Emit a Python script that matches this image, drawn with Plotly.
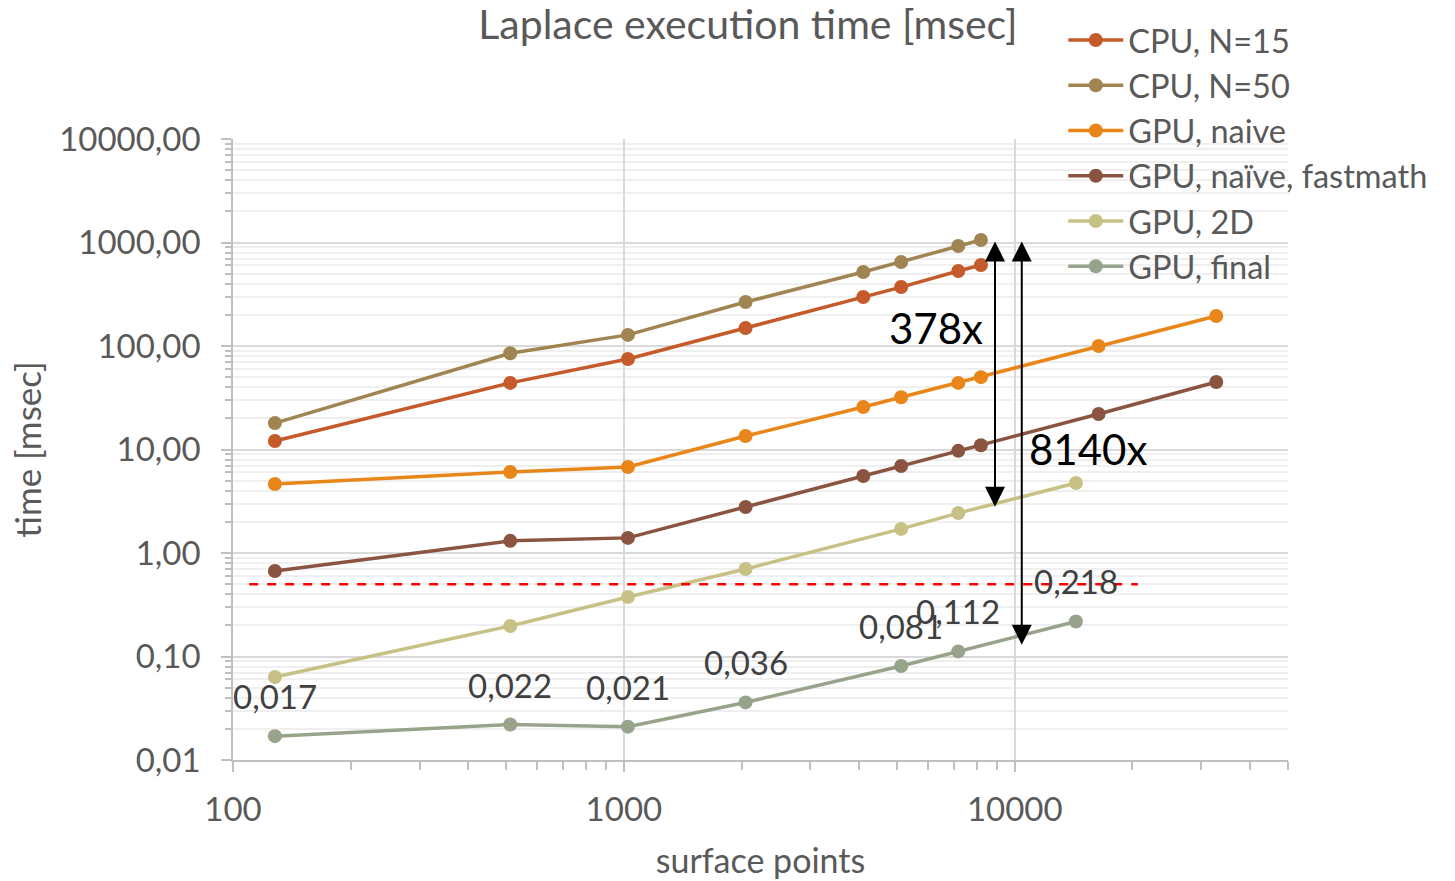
import math
import plotly.graph_objects as go

# Surface point counts for each implementation
x_cpu = [128, 512, 1024, 2048, 4096, 5120, 7168, 8192]
x_gpu = [128, 512, 1024, 2048, 4096, 5120, 7168, 8192, 16384, 32768]
x_2d = [128, 512, 1024, 2048, 5120, 7168, 14336]

# Execution times in msec
cpu_n15 = [12.1, 44, 75, 149, 297, 371, 530, 606]
cpu_n50 = [18, 85, 128, 266, 518, 648, 925, 1056]
gpu_naive = [4.64, 6.07, 6.78, 13.5, 25.7, 32, 44, 50, 100, 195]
gpu_fastmath = [0.67, 1.31, 1.40, 2.78, 5.54, 6.93, 9.7, 11.0, 22, 44.9]
gpu_2d = [0.0634, 0.197, 0.376, 0.70, 1.71, 2.43, 4.74]
gpu_final = [0.017, 0.022, 0.021, 0.036, 0.081, 0.112, 0.218]
final_labels = ["0,017", "0,022", "0,021", "0,036", "0,081", "0,112", "0,218"]

# Real-time threshold line
threshold = 0.5
threshold_x = [110, 20650]

# Speed-up ratios shown by the arrows
speedup_cpu = 378
speedup_total = 8140

y_tickvals = [0.01, 0.1, 1, 10, 100, 1000, 10000]
y_ticktext = ["0,01", "0,10", "1,00", "10,00", "100,00", "1000,00", "10000,00"]
x_tickvals = [100, 1000, 10000]
x_ticktext = ["100", "1000", "10000"]

FONT = "Lato, 'Open Sans', sans-serif"
TXT = "#595959"

series = [
    ("CPU, N=15", x_cpu, cpu_n15, "#C55A2B"),
    ("CPU, N=50", x_cpu, cpu_n50, "#A08552"),
    ("GPU, naive", x_gpu, gpu_naive, "#E8861A"),
    ("GPU, naïve, fastmath", x_gpu, gpu_fastmath, "#8A5440"),
    ("GPU, 2D", x_2d, gpu_2d, "#C8C185"),
    ("GPU, final", x_2d, gpu_final, "#97A38A"),
]

fig = go.Figure()
for name, xs, ys, col in series:
    fig.add_trace(go.Scatter(
        x=xs, y=ys, name=name, mode="lines+markers",
        line=dict(color=col, width=3.5),
        marker=dict(color=col, size=14),
    ))

fig.add_trace(go.Scatter(
    x=threshold_x, y=[threshold, threshold], mode="lines",
    line=dict(color="#FF0000", width=2.5, dash="dash"),
    showlegend=False, hoverinfo="skip",
))

annotations = []
for xv, yv, lab in zip(x_2d, gpu_final, final_labels):
    annotations.append(dict(
        x=math.log10(xv), y=math.log10(yv), text=lab, showarrow=False,
        yshift=40, font=dict(family=FONT, size=33, color="#404040"),
    ))

# Double-headed speed-up arrows
top = cpu_n50[-1]
for xa, ratio in [(8900, speedup_cpu), (10420, speedup_total)]:
    annotations.append(dict(
        x=math.log10(xa), y=math.log10(top / ratio),
        ax=math.log10(xa), ay=math.log10(top),
        xref="x", yref="y", axref="x", ayref="y",
        text="", showarrow=True, arrowhead=2, arrowside="end+start",
        arrowsize=2, arrowwidth=2, arrowcolor="#000000",
    ))

annotations.append(dict(x=math.log10(6300), y=math.log10(150), text=f"{speedup_cpu}x",
                        showarrow=False, font=dict(family=FONT, size=42, color="#000000")))
annotations.append(dict(x=math.log10(15400), y=math.log10(10.2), text=f"{speedup_total}x",
                        showarrow=False, font=dict(family=FONT, size=42, color="#000000")))

y_minor = [m * 10 ** e for e in range(-2, 4) for m in range(2, 10)]
x_minor = [m * 10 ** e for e in range(2, 5) for m in range(2, 10) if m * 10 ** e <= 50000]

fig.update_layout(
    width=1455, height=881,
    paper_bgcolor="white", plot_bgcolor="white",
    margin=dict(l=233, r=167, t=139, b=121, autoexpand=False),
    font=dict(family=FONT, color=TXT),
    title=dict(text="Laplace execution time [msec]", x=0.514, xanchor="center",
               y=0.972, yanchor="middle",
               font=dict(family=FONT, size=41, color=TXT)),
    legend=dict(x=0.787, y=0.986, xanchor="left", yanchor="top", yref="container",
                xref="paper", bgcolor="rgba(0,0,0,0)",
                font=dict(family=FONT, size=32.5, color=TXT),
                itemwidth=55, tracegroupgap=0),
    annotations=annotations,
    xaxis=dict(
        type="log", range=[2, math.log10(50000)],
        tickvals=x_tickvals, ticktext=x_ticktext,
        tickfont=dict(family=FONT, size=33, color=TXT),
        ticks="outside", ticklen=10, tickcolor="#bfbfbf", tickwidth=1.5,
        ticklabelstandoff=10,
        showline=True, linecolor="#bfbfbf", linewidth=1.5,
        showgrid=True, gridcolor="#d9d9d9", gridwidth=1.5,
        zeroline=False,
        minor=dict(tickvals=x_minor, ticks="outside", ticklen=8,
                   tickcolor="#bfbfbf", tickwidth=1.5, showgrid=False),
        title=dict(text="surface points", standoff=22,
                   font=dict(family=FONT, size=34, color=TXT)),
    ),
    yaxis=dict(
        type="log", range=[-2, 4],
        tickvals=y_tickvals, ticktext=y_ticktext,
        tickfont=dict(family=FONT, size=33, color=TXT),
        ticks="outside", ticklen=10, tickcolor="#bfbfbf", tickwidth=1.5,
        ticklabelstandoff=14,
        showline=True, linecolor="#bfbfbf", linewidth=1.5,
        showgrid=True, gridcolor="#d9d9d9", gridwidth=1.5,
        zeroline=False,
        minor=dict(tickvals=y_minor, ticks="outside", ticklen=6,
                   tickcolor="#bfbfbf", tickwidth=1.5,
                   showgrid=True, gridcolor="#efefef", gridwidth=1.5),
        title=dict(text="time [msec]", standoff=7,
                   font=dict(family=FONT, size=35, color=TXT)),
    ),
)

fig.write_html("out.html")
